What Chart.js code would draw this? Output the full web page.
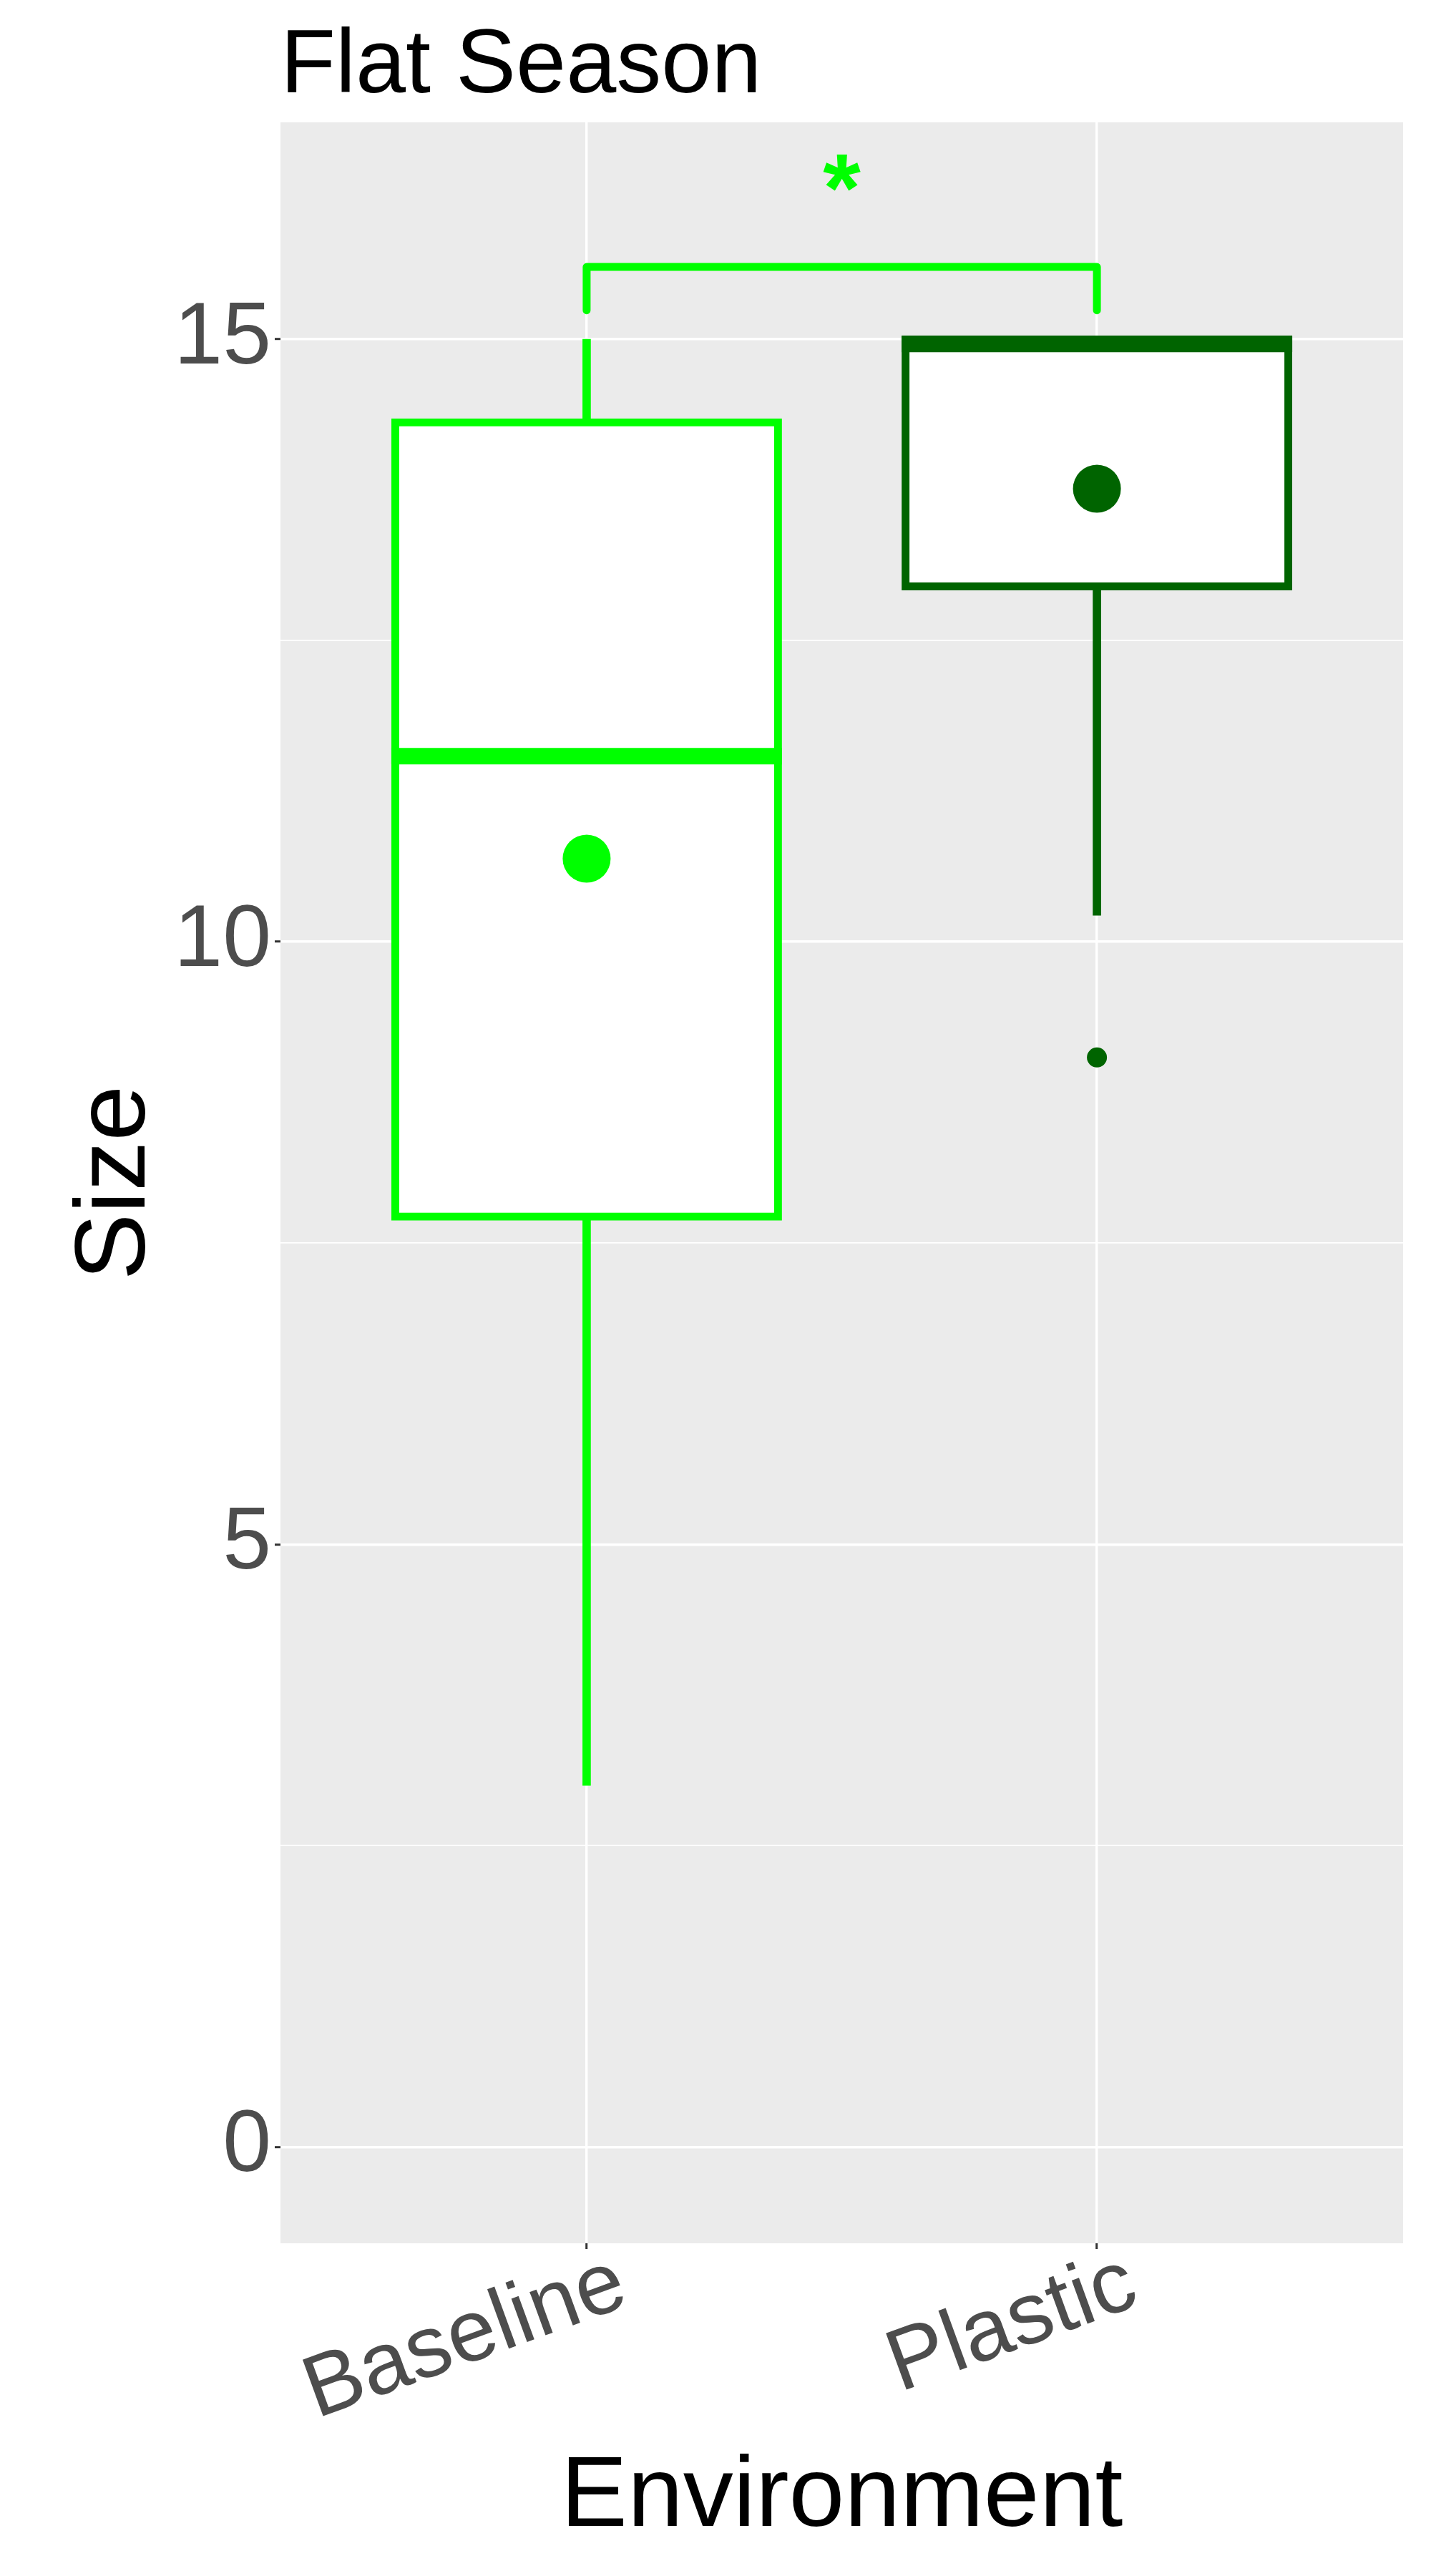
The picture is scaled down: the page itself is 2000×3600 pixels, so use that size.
<!DOCTYPE html>
<html>
<head>
<meta charset="utf-8">
<title>Flat Season</title>
<script src="https://cdn.jsdelivr.net/npm/chart.js@4.4.1/dist/chart.umd.min.js"></script>
<style>
  html, body { margin: 0; padding: 0; background: #fff; }
  #wrap { width: 2000px; height: 3600px; }
</style>
</head>
<body>
<div id="wrap"><canvas id="chart" width="2000" height="3600"></canvas></div>
<script>
  // values
  const categories = ["Baseline", "Plastic"];
  const boxColors = ["#00FF00", "#006400"];
  const whiskerLow = [3.0, 10.22];
  const q1 = [7.72, 12.95];
  const medians = [11.54, 14.96];
  const q3 = [14.31, 15.0];
  const whiskerHigh = [15.0, 15.0];
  const means = [10.69, 13.76];
  const outliers = [[], [9.04]];

  const yTicks = [0, 2.5, 5, 7.5, 10, 12.5, 15];
  const yRange = [-0.8, 16.8];
  const xRange = [0.4, 2.6];

  // significance bracket between the two groups
  const bracketPair = [1, 2];
  const bracketLevels = [15.24, 15.6]; // tip end, bar
  const sigLabel = "*";
  const sigLabelY = 16.38;

  const titleText = "Flat Season";
  const xTitle = "Environment";
  const yTitle = "Size";

  const FONT = '"Liberation Sans", Arial, Helvetica, sans-serif';
  const LIME = "#00FF00";

  const pos = (i) => i + 1;

  const panelBg = {
    id: "panelBg",
    beforeDraw(chart) {
      const { ctx, chartArea: a } = chart;
      ctx.save();
      ctx.fillStyle = "#FFFFFF";
      ctx.fillRect(0, 0, chart.width, chart.height);
      ctx.fillStyle = "#EBEBEB";
      ctx.fillRect(a.left, a.top, a.right - a.left, a.bottom - a.top);
      ctx.restore();
    }
  };

  const annotations = {
    id: "annotations",
    afterDraw(chart) {
      const { ctx, chartArea: a, scales: { x, y } } = chart;
      ctx.save();
      ctx.textBaseline = "alphabetic";

      // title
      ctx.fillStyle = "#000000";
      ctx.font = `126px ${FONT}`;
      ctx.textAlign = "left";
      ctx.fillText(titleText, a.left, 129);

      // axis titles
      ctx.font = `140px ${FONT}`;
      ctx.textAlign = "center";
      ctx.fillText(xTitle, (a.left + a.right) / 2, 3530);
      ctx.save();
      ctx.translate(202, (a.top + a.bottom) / 2);
      ctx.rotate(-Math.PI / 2);
      ctx.fillText(yTitle, 0, 0);
      ctx.restore();

      // rotated category labels
      ctx.fillStyle = "#4D4D4D";
      ctx.font = `122px ${FONT}`;
      ctx.textAlign = "right";
      categories.forEach((c, i) => {
        ctx.save();
        ctx.translate(x.getPixelForValue(pos(i)) + 62, a.bottom + 85);
        ctx.rotate(-20 * Math.PI / 180);
        ctx.fillText(c, 0, 0);
        ctx.restore();
      });

      // significance star
      ctx.fillStyle = LIME;
      ctx.font = `bold 135px ${FONT}`;
      ctx.textAlign = "center";
      const m = ctx.measureText(sigLabel);
      const off = (m.actualBoundingBoxAscent - m.actualBoundingBoxDescent) / 2;
      ctx.fillText(sigLabel, x.getPixelForValue((bracketPair[0] + bracketPair[1]) / 2), y.getPixelForValue(sigLabelY) + off);

      ctx.restore();
    }
  };

  const outlierPoints = [];
  const outlierColors = [];
  outliers.forEach((list, i) => list.forEach((v) => {
    outlierPoints.push({ x: pos(i), y: v });
    outlierColors.push(boxColors[i]);
  }));

  const datasets = [
    {
      label: "whiskers",
      type: "bar",
      data: categories.map((c, i) => ({ x: pos(i), y: [whiskerLow[i], whiskerHigh[i]] })),
      backgroundColor: boxColors,
      borderWidth: 0,
      barThickness: 11,
      grouped: false,
      order: 5
    },
    {
      label: "boxes",
      type: "bar",
      data: categories.map((c, i) => ({ x: pos(i), y: [q1[i], q3[i]] })),
      backgroundColor: "#FFFFFF",
      borderColor: boxColors,
      borderWidth: 11,
      borderSkipped: false,
      inflateAmount: 5.5,
      barThickness: 535,
      grouped: false,
      order: 4
    },
    {
      label: "medians",
      type: "scatter",
      data: categories.map((c, i) => ({ x: pos(i), y: medians[i] })),
      showLine: false,
      pointStyle: "line",
      pointRadius: 273,
      pointBorderWidth: 23,
      pointBorderColor: boxColors,
      pointBackgroundColor: boxColors,
      order: 3
    },
    {
      label: "means",
      type: "scatter",
      data: categories.map((c, i) => ({ x: pos(i), y: means[i] })),
      showLine: false,
      pointRadius: 33.5,
      pointBorderWidth: 0,
      pointBackgroundColor: boxColors,
      order: 1
    },
    {
      label: "outliers",
      type: "scatter",
      data: outlierPoints,
      showLine: false,
      pointRadius: 14,
      pointBorderWidth: 0,
      pointBackgroundColor: outlierColors,
      order: 1
    },
    {
      label: "bracket",
      type: "line",
      data: [
        { x: bracketPair[0], y: bracketLevels[0] },
        { x: bracketPair[0], y: bracketLevels[1] },
        { x: bracketPair[1], y: bracketLevels[1] },
        { x: bracketPair[1], y: bracketLevels[0] }
      ],
      borderColor: LIME,
      borderWidth: 11,
      borderCapStyle: "round",
      borderJoinStyle: "round",
      pointRadius: 0,
      tension: 0,
      fill: false,
      order: 0
    }
  ];

  new Chart(document.getElementById("chart"), {
    type: "bar",
    data: { datasets },
    options: {
      responsive: false,
      devicePixelRatio: 1,
      animation: false,
      events: [],
      layout: { autoPadding: false, padding: { top: 171, right: 39, bottom: 0, left: 0 } },
      plugins: {
        legend: { display: false },
        tooltip: { enabled: false },
        title: { display: false }
      },
      scales: {
        x: {
          type: "linear",
          min: xRange[0],
          max: xRange[1],
          offset: false,
          afterBuildTicks: (s) => { s.ticks = categories.map((c, i) => ({ value: pos(i) })); },
          afterFit: (s) => { s.height = 465; },
          ticks: { display: false },
          grid: { offset: false, color: "#FFFFFF", lineWidth: 3.4, tickColor: "#333333", tickLength: 8, tickWidth: 3 },
          border: { display: false }
        },
        y: {
          type: "linear",
          min: yRange[0],
          max: yRange[1],
          afterBuildTicks: (s) => { s.ticks = yTicks.map((v) => ({ value: v })); },
          afterFit: (s) => { s.width = 392; },
          ticks: {
            autoSkip: false,
            padding: 5,
            color: "#4D4D4D",
            font: { family: FONT, size: 122 },
            callback: (v) => (v % 5 === 0 ? String(v) : "")
          },
          grid: {
            color: "#FFFFFF",
            lineWidth: (c) => (c.tick && c.tick.value % 5 === 0 ? 3.4 : 1.7),
            tickColor: (c) => (c.tick && c.tick.value % 5 === 0 ? "#333333" : "rgba(0,0,0,0)"),
            tickLength: 8,
            tickWidth: 3
          },
          border: { display: false }
        }
      }
    },
    plugins: [panelBg, annotations]
  });
</script>
</body>
</html>
